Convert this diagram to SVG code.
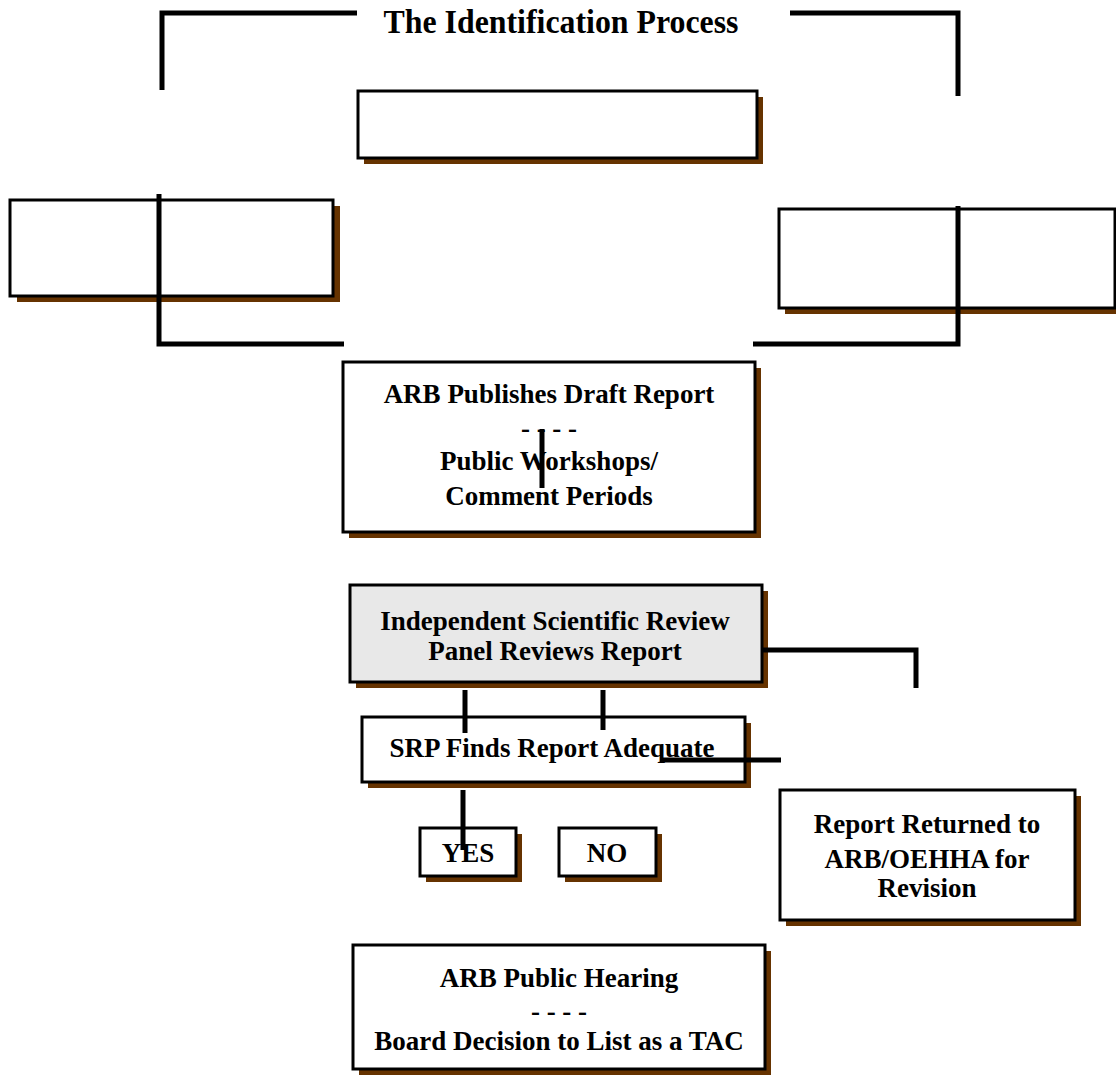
<svg xmlns="http://www.w3.org/2000/svg" width="1116" height="1080" viewBox="0 0 1116 1080">
<style>
.sh{fill:#663300}
.bx{fill:#fff;stroke:#000;stroke-width:3}
.gray{fill:#e8e8e8}
.t{font-family:"Liberation Serif","Times New Roman",serif;font-weight:bold;font-size:27px;fill:#000;text-anchor:middle}
.ttl{font-size:33px}
.c{fill:none;stroke:#000;stroke-width:5}
</style>
<rect width="1116" height="1080" fill="#fff"/>
<text class="t ttl" x="561" y="33" textLength="355" lengthAdjust="spacingAndGlyphs">The Identification Process</text>
<g id="top-box"><rect class="sh" x="364" y="97" width="399" height="67"/><rect class="bx" x="358" y="91" width="399" height="67"/></g>
<g id="left-box"><rect class="sh" x="17" y="206" width="323" height="96"/><rect class="bx" x="10" y="200" width="323" height="96"/></g>
<g id="right-box"><rect class="sh" x="785" y="215" width="340" height="99"/><rect class="bx" x="779" y="209" width="336" height="99"/></g>
<g id="draft-report"><rect class="sh" x="349" y="368" width="412" height="170"/><rect class="bx" x="343" y="362" width="412" height="170"/>
<text class="t" x="549" y="403">ARB Publishes Draft Report</text>
<text class="t" x="549" y="437">- - - -</text>
<text class="t" x="549" y="470">Public Workshops/</text>
<text class="t" x="549" y="505">Comment Periods</text></g>
<g id="isrp"><rect class="sh" x="356" y="591" width="412" height="97"/><rect class="bx gray" x="350" y="585" width="412" height="97"/>
<text class="t" x="555" y="630">Independent Scientific Review</text>
<text class="t" x="555" y="660">Panel Reviews Report</text></g>
<g id="srp"><rect class="sh" x="368" y="723" width="383" height="65"/><rect class="bx" x="362" y="717" width="383" height="65"/>
<text class="t" x="552" y="757">SRP Finds Report Adequate</text></g>
<g id="yes"><rect class="sh" x="426" y="834" width="96" height="48"/><rect class="bx" x="420" y="828" width="96" height="48"/>
<text class="t" x="468" y="862">YES</text></g>
<g id="no"><rect class="sh" x="565" y="834" width="97" height="48"/><rect class="bx" x="559" y="828" width="97" height="48"/>
<text class="t" x="607" y="862">NO</text></g>
<g id="returned"><rect class="sh" x="786" y="796" width="295" height="130"/><rect class="bx" x="780" y="790" width="295" height="130"/>
<text class="t" x="927" y="833">Report Returned to</text>
<text class="t" x="927" y="868">ARB/OEHHA for</text>
<text class="t" x="927" y="897">Revision</text></g>
<g id="hearing"><rect class="sh" x="359" y="951" width="412" height="124"/><rect class="bx" x="353" y="945" width="412" height="124"/>
<text class="t" x="559" y="987">ARB Public Hearing</text>
<text class="t" x="559" y="1020">- - - -</text>
<text class="t" x="559" y="1050">Board Decision to List as a TAC</text></g>
<g id="connectors">
<path class="c" d="M357,13 H162 V90"/>
<path class="c" d="M790,13 H958 V96"/>
<path class="c" d="M159,194 V344 H344"/>
<path class="c" d="M753,344 H958 V206"/>
<path class="c" d="M542,429 V488"/>
<path class="c" d="M762,650 H916 V688"/>
<path class="c" d="M465,690 V733"/>
<path class="c" d="M603,690 V730"/>
<path class="c" d="M660,760 H781"/>
<path class="c" d="M463,790 V850"/>
</g>
</svg>
